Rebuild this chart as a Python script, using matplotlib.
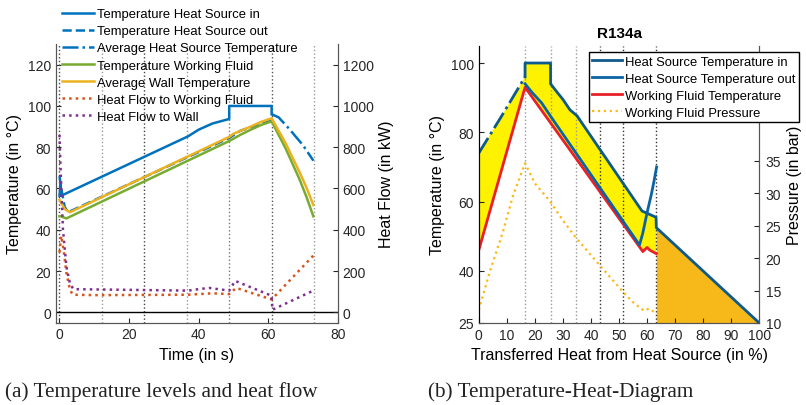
import numpy as np
import matplotlib
matplotlib.use('Agg')
import matplotlib.pyplot as plt

plt.rcParams['font.family'] = ['Liberation Sans', 'DejaVu Sans']
plt.rcParams['xtick.direction'] = 'in'
plt.rcParams['ytick.direction'] = 'in'

# ---- (a) time series ----
t_in = [0, 0.3, 0.5, 37, 40, 44, 48.8, 48.8, 61, 61]
T_in = [56.5, 62, 56.5, 85.3, 88.5, 91.5, 93.7, 100, 100, 96]
t_out = [0, 0.5, 1.5, 2.5, 48.8, 52, 61]
T_out = [66, 60, 51, 48.5, 84.5, 88, 93]
t_avg = [61, 63, 66, 68, 70, 73]
T_avg = [96, 94.5, 89, 85, 81, 73.5]
t_wf = [0, 0.3, 2, 48.8, 52, 55, 58, 61, 63, 65, 67, 69, 71, 73]
T_wf = [46.5, 46.5, 45.5, 83, 86, 88.5, 90.8, 92.5, 86, 79.5, 72, 64.5, 56, 46.5]
t_wall = [0, 0.5, 1.5, 3, 48.8, 50, 55, 58, 61, 63, 65, 67, 69, 71, 73]
T_wall = [54.5, 53, 50, 48.5, 85, 86.5, 90, 92.3, 94, 88, 82, 75, 68, 60.5, 52]
t_qwf = [0, 0.5, 1.2, 2, 3, 3.8, 10, 37, 40, 44, 48.8, 50.8, 61, 73]
Q_wf = [290, 370, 300, 190, 110, 85, 83, 85, 88, 92, 88, 118, 62, 275]
t_qw = [0, 0.3, 1, 2, 3, 4, 37, 40, 43, 48.8, 50.5, 61, 61.2, 73]
Q_w = [860, 700, 400, 220, 140, 112, 105, 112, 118, 105, 152, 80, 12, 105]
t_marks = [0, 12.2, 24.4, 36.6, 48.8, 61, 73.2]
t_mark_cols = ['#444444', '#999999', '#444444', '#999999', '#777777', '#555555', '#999999']

# ---- (b) T-Q diagram ----
q_pre = [0, 8, 16.5]
T_pre = [74, 84.5, 96]
q_hin = [16.5, 16.5, 25.6, 25.6, 28, 30, 32.5, 35, 58.2, 63.2, 63.3, 100]
T_hin = [96, 100, 100, 94, 91.5, 89.5, 86.5, 84.8, 57.3, 55.5, 52.5, 25]
q_hout = [16.5, 19, 22.4, 25.3, 57.3, 58.5, 60, 61.5, 62.5, 63.4]
T_hout = [94, 91.5, 88.5, 85, 47.5, 51, 56.8, 62, 66, 70]
q_wf = [0, 16.5, 58.5, 60, 61, 63.3]
T_wf2 = [46, 93, 45.6, 46.8, 46, 45]
q_p = [0, 4, 8.6, 12.2, 16.5, 20, 25.3, 30, 34.5, 43.3, 51.6, 55, 58.8, 60.6, 61.5, 63.3]
p_wf = [12, 18, 24, 29.6, 34.6, 31.5, 28.8, 25.8, 23.2, 18.8, 14.7, 13.2, 11.9, 12.2, 12.0, 11.4]
q_marks = [16.5, 25.6, 34.6, 43.3, 51.6, 63.3]
q_mark_cols = ['#999999', '#999999', '#999999', '#333333', '#333333', '#333333']
q_end = 63.3

fig = plt.figure(figsize=(8.06, 4.06), dpi=100)
spine_col = '#555555'
tick_fs = 10
lab_fs = 11.5

ax = fig.add_axes([0.0695, 0.203, 0.3495, 0.686])
for tm, c in zip(t_marks, t_mark_cols):
    ax.axvline(tm, color=c, ls=':', lw=1)
ax.axhline(0, color='k', lw=1)
l1, = ax.plot(t_in, T_in, color='#0072BD', lw=1.8, label='Temperature Heat Source in')
l2, = ax.plot(t_out, T_out, color='#0072BD', lw=1.8, ls='--', label='Temperature Heat Source out')
l3, = ax.plot(t_avg, T_avg, color='#0072BD', lw=1.8, ls='-.', label='Average Heat Source Temperature')
l4, = ax.plot(t_wf, T_wf, color='#77AC30', lw=1.8, label='Temperature Working Fluid')
l5, = ax.plot(t_wall, T_wall, color='#EDB120', lw=1.8, label='Average Wall Temperature')
ax.set_xlim(-1, 80)
ax.set_ylim(-5, 130)
ax.set_xticks([0, 20, 40, 60, 80])
ax.set_yticks([0, 20, 40, 60, 80, 100, 120])
ax.set_xlabel('Time (in s)', fontsize=lab_fs)
ax.set_ylabel('Temperature (in °C)', fontsize=lab_fs)
ax.spines['top'].set_visible(False)
ax.tick_params(labelsize=tick_fs, colors='#262626')

axr = ax.twinx()
l6, = axr.plot(t_qwf, Q_wf, color='#D95319', lw=1.8, ls=':', label='Heat Flow to Working Fluid')
l7, = axr.plot(t_qw, Q_w, color='#7E2F8E', lw=1.8, ls=':', label='Heat Flow to Wall')
axr.set_ylim(-50, 1300)
axr.set_yticks([0, 200, 400, 600, 800, 1000, 1200])
axr.set_ylabel('Heat Flow (in kW)', fontsize=lab_fs)
axr.spines['top'].set_visible(False)
axr.tick_params(labelsize=tick_fs, colors='#262626')
for a in (ax, axr):
    for s in a.spines.values():
        s.set_color(spine_col)

axr.legend(handles=[l1, l2, l3, l4, l5, l6, l7], loc='upper left',
           bbox_to_anchor=(0.066, 1.0), bbox_transform=fig.transFigure,
           frameon=False, fontsize=9.4, handlelength=2.4, handletextpad=0.25,
           labelspacing=0.38, borderpad=0.2)

# right panel
bx = fig.add_axes([0.594, 0.202, 0.348, 0.683])
for qm, c in zip(q_marks, q_mark_cols):
    bx.axvline(qm, color=c, ls=':', lw=1)
q_up = np.array(q_pre + [q for q in q_hin if q <= q_end])
T_up = np.array(T_pre + [T for q, T in zip(q_hin, T_hin) if q <= q_end])
bx.fill(np.concatenate([q_up, q_wf[::-1]]), np.concatenate([T_up, T_wf2[::-1]]),
        color='#FFF200', lw=0)
q_tail = np.array([q for q in q_hin if q >= q_end])
T_tail = np.array([T for q, T in zip(q_hin, T_hin) if q >= q_end])
bx.fill_between(q_tail, 25, T_tail, color='#F6B919', lw=0)
bx.plot(q_pre, T_pre, color='#0E5A8A', lw=2, ls='-.')
b1, = bx.plot(q_hin, T_hin, color='#0E5A8A', lw=2, label='Heat Source Temperature in')
b3, = bx.plot(q_wf, T_wf2, color='#E8202A', lw=2, label='Working Fluid Temperature')
b2, = bx.plot(q_hout, T_hout, color='#0A64A4', lw=2, label='Heat Source Temperature out')
bx.set_xlim(0, 100)
bx.set_ylim(25, 105)
bx.set_xticks(range(0, 101, 10))
bx.set_yticks([25, 40, 60, 80, 100])
bx.set_xlabel('Transferred Heat from Heat Source (in %)', fontsize=lab_fs)
bx.set_ylabel('Temperature (in °C)', fontsize=lab_fs)
bx.set_title('R134a', fontsize=11, fontweight='bold')
bx.spines['top'].set_visible(False)
bx.tick_params(labelsize=tick_fs, colors='#262626')

bxr = bx.twinx()
b4, = bxr.plot(q_p, p_wf, color='#FDB813', lw=1.6, ls=':', label='Working Fluid Pressure')
bxr.set_ylim(10, 52.7)
bxr.set_yticks([10, 15, 20, 25, 30, 35])
bxr.set_ylabel('Pressure (in bar)', fontsize=lab_fs)
bxr.spines['top'].set_visible(False)
bxr.tick_params(labelsize=tick_fs, colors='#262626', pad=4.5)
for a in (bx, bxr):
    for s in a.spines.values():
        s.set_color(spine_col)
    a.spines['left'].set_color('k')
leg = bxr.legend(handles=[b1, b2, b3, b4], loc='upper left',
                 bbox_to_anchor=(0.7225, 0.885), bbox_transform=fig.transFigure,
                 fontsize=9.4, handlelength=2.3, handletextpad=0.25,
                 labelspacing=0.38, borderpad=0.25, fancybox=False,
                 framealpha=1)
leg.get_frame().set_edgecolor('k')
leg.get_frame().set_linewidth(1)

fig.text(0.006, 0.022, '(a) Temperature levels and heat flow', fontsize=15.3,
         family=['Liberation Serif', 'DejaVu Serif'], color='#222222')
fig.text(0.531, 0.022, '(b) Temperature-Heat-Diagram', fontsize=15.3,
         family=['Liberation Serif', 'DejaVu Serif'], color='#222222')

fig.savefig('out.png', dpi=100)
